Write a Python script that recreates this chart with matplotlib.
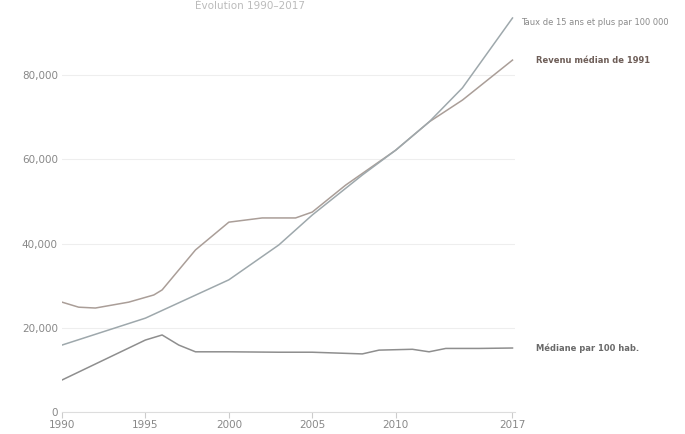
import matplotlib
matplotlib.use("Agg")
import matplotlib.pyplot as plt

title = "Évolution 1990–2017"

years_a = [1990, 1991, 1992, 1994, 1995.5, 1996, 1998, 2000, 2002, 2004, 2005, 2007, 2010, 2012, 2014, 2017]
vals_a = [26100, 24900, 24700, 26100, 27800, 29000, 38500, 45100, 46100, 46100, 47500, 53900, 62200, 68900, 74100, 83600]

years_b = [1990, 1995, 2000, 2003, 2005, 2008, 2010, 2012, 2014, 2017]
vals_b = [15900, 22300, 31400, 39700, 46800, 56300, 62200, 68900, 77000, 93600]

years_c = [1990, 1995, 1996, 1997, 1998, 2000, 2003, 2005, 2008, 2009, 2011, 2012, 2013, 2015, 2017]
vals_c = [7600, 17100, 18300, 15900, 14300, 14300, 14200, 14200, 13800, 14700, 14900, 14300, 15100, 15100, 15200]

label_a = "Revenu médian de 1991"
label_b = "Taux de 15 ans et plus par 100 000"
label_c = "Médiane par 100 hab."

xticks = [1990, 1995, 2000, 2005, 2010, 2017]
yticks = [0, 20000, 40000, 60000, 80000]
ytick_labels = ["0", "20,000", "40,000", "60,000", "80,000"]

fig = plt.figure(figsize=(6.85, 4.34), dpi=100)
ax = fig.add_axes([62/685, 1-412/434, (515-62)/685, (412-10)/434])

ax.plot(years_a, vals_a, color="#aa9e98", lw=1.1)
ax.plot(years_b, vals_b, color="#9ea8ac", lw=1.1)
ax.plot(years_c, vals_c, color="#8e8e8e", lw=1.1)

ax.set_xlim(1990, 2017.15)
ax.set_ylim(0, 95500)
ax.set_xticks(xticks)
ax.set_xticklabels([str(x) for x in xticks])
ax.set_yticks(yticks)
ax.set_yticklabels(ytick_labels)
ax.grid(axis="y", color="#eeeeee", lw=0.8)
ax.set_axisbelow(True)
for s in ["top", "right", "left"]:
    ax.spines[s].set_visible(False)
ax.spines["bottom"].set_color("#dddddd")
ax.tick_params(axis="y", length=0, labelsize=7.5, labelcolor="#888888", pad=3)
ax.tick_params(axis="x", length=4, color="#cccccc", labelsize=7.5, labelcolor="#888888", pad=2)

ax.annotate(label_b, xy=(years_b[-1], vals_b[-1]), xytext=(6, -3), textcoords="offset points",
            fontsize=6, color="#8a8a8a", va="center", annotation_clip=False)
ax.annotate(label_a, xy=(years_a[-1], vals_a[-1]), xytext=(17, 0), textcoords="offset points",
            fontsize=6, color="#6e5e58", fontweight="bold", va="center", annotation_clip=False)
ax.annotate(label_c, xy=(years_c[-1], vals_c[-1]), xytext=(17, 0), textcoords="offset points",
            fontsize=6, color="#6a6a6a", fontweight="bold", va="center", annotation_clip=False)

fig.text(250/685, 1-6/434, title, fontsize=7.5, color="#bbbbbb", ha="center", va="center")

fig.savefig("out.png", dpi=100)
